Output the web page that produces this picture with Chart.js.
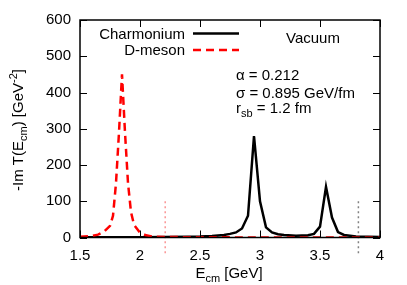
<!DOCTYPE html>
<html>
<head>
<meta charset="utf-8">
<script src="https://cdn.jsdelivr.net/npm/chart.js@4.4.0/dist/chart.umd.min.js"></script>
<style>
  body { margin: 0; background: #fff; }
  #wrap { width: 407px; height: 285px; position: relative; }
</style>
</head>
<body>
<div id="wrap"><canvas id="myChart"></canvas></div>
<script>
// energies in GeV, values of -Im T in GeV^-2
const charmE = [1.5, 1.8, 2.0, 2.2, 2.4, 2.5, 2.6, 2.7, 2.75, 2.8, 2.85, 2.9, 2.95, 3.0, 3.05, 3.1, 3.15, 3.2, 3.3, 3.4, 3.45, 3.5, 3.55, 3.6, 3.65, 3.7, 3.8, 3.9, 4.0]
const charmV = [0.5, 0.7, 1, 1.5, 2, 2.5, 4, 7, 10, 14, 25, 60, 280, 100, 28, 14, 9, 7, 5, 6, 10, 30, 140, 55, 15, 7, 3, 2, 1.5]

const dmesonE = [1.5, 1.6, 1.65, 1.7, 1.75, 1.775, 1.8, 1.825, 1.85, 1.875, 1.9, 1.925, 1.95, 2.0, 2.05, 2.1, 2.2, 2.5, 3.0, 3.5, 4.0]
const dmesonV = [2, 4, 8, 16, 32, 60, 150, 290, 450, 290, 150, 70, 35, 13, 6, 3, 1.5, 0.5, 0.2, 0.1, 0.1]

// thresholds (dotted markers)
const thresholdD = 2.21
const thresholdC = 3.82
const markerTop = 100
const markerBottom = -50

const xTicks = [1.5, 2, 2.5, 3, 3.5, 4]
const yTicks = [0, 100, 200, 300, 400, 500, 600]

const toPoints = (xs, ys) => xs.map((x, i) => ({ x: x, y: ys[i] }))

const FAMILY = '"Liberation Sans", Arial, sans-serif'
const FONT = '15px ' + FAMILY
const SMALL = '11px ' + FAMILY

// draw text with sub/superscripts
const richText = (ctx, parts, x, y, align) => {
  let w = 0
  parts.forEach(p => {
    ctx.font = p.sub || p.sup ? SMALL : FONT
    w += ctx.measureText(p.t).width
  })
  let cx = x
  if (align === 'center') cx = x - w / 2
  if (align === 'right') cx = x - w
  parts.forEach(p => {
    ctx.font = p.sub || p.sup ? SMALL : FONT
    let dy = 0
    if (p.sub) dy = 4
    if (p.sup) dy = -6
    ctx.fillText(p.t, cx, y + dy)
    cx += ctx.measureText(p.t).width
  })
}

const framePlugin = {
  id: 'frame',
  afterDraw(chart) {
    const ctx = chart.ctx
    const a = chart.chartArea
    const xs = chart.scales.x
    const ys = chart.scales.y
    ctx.save()
    ctx.strokeStyle = '#000'
    ctx.lineWidth = 1.5
    ctx.strokeRect(a.left, a.top, a.right - a.left, a.bottom - a.top)

    const len = 7
    ctx.lineWidth = 1
    ctx.beginPath()
    xTicks.forEach(v => {
      const px = Math.round(xs.getPixelForValue(v)) + 0.5
      ctx.moveTo(px, a.bottom); ctx.lineTo(px, a.bottom - len)
      ctx.moveTo(px, a.top); ctx.lineTo(px, a.top + len)
    })
    yTicks.forEach(v => {
      const py = Math.round(ys.getPixelForValue(v)) + 0.5
      ctx.moveTo(a.left, py); ctx.lineTo(a.left + len, py)
      ctx.moveTo(a.right, py); ctx.lineTo(a.right - len, py)
    })
    ctx.stroke()

    // legend
    ctx.fillStyle = '#000'
    ctx.textBaseline = 'alphabetic'
    ctx.font = FONT
    ctx.textAlign = 'right'
    ctx.fillText('Charmonium', 185, 39)
    ctx.fillText('D-meson', 185, 55)
    ctx.textAlign = 'left'
    ctx.lineWidth = 2.5
    ctx.beginPath()
    ctx.moveTo(193, 33.5); ctx.lineTo(239, 33.5)
    ctx.stroke()
    ctx.strokeStyle = '#ff0000'
    ctx.setLineDash([8, 5])
    ctx.beginPath()
    ctx.moveTo(193, 50); ctx.lineTo(239, 50)
    ctx.stroke()
    ctx.setLineDash([])

    ctx.fillText('Vacuum', 286, 43)
    ctx.fillText('\u03b1 = 0.212', 236, 80)
    ctx.fillText('\u03c3 = 0.895 GeV/fm', 236, 98)
    richText(ctx, [{ t: 'r' }, { t: 'sb', sub: true }, { t: ' = 1.2 fm' }], 236, 113, 'left')

    // axis titles
    richText(ctx, [{ t: 'E' }, { t: 'cm', sub: true }, { t: ' [GeV]' }], 229, 278, 'center')
    ctx.save()
    ctx.translate(23, 130)
    ctx.rotate(-Math.PI / 2)
    richText(ctx, [{ t: '-Im T(E' }, { t: 'cm', sub: true }, { t: ') [GeV' }, { t: '-2', sup: true }, { t: ']' }], 0, 0, 'center')
    ctx.restore()
    ctx.restore()
  }
}

const ctx = document.getElementById('myChart').getContext('2d')

new Chart(ctx, {
  type: 'line',
  data: {
    datasets: [
      {
        label: 'D-meson',
        data: toPoints(dmesonE, dmesonV),
        borderColor: '#ff0000',
        borderWidth: 2.5,
        borderDash: [8, 5],
        pointRadius: 0,
        order: 0
      },
      {
        label: 'Charmonium',
        data: toPoints(charmE, charmV),
        borderColor: '#000000',
        borderWidth: 2.5,
        pointRadius: 0,
        order: 1
      },
      {
        label: 'D threshold',
        data: toPoints([thresholdD, thresholdD], [markerTop, markerBottom]),
        borderColor: 'rgb(250,150,150)',
        borderWidth: 1.5,
        borderDash: [2, 3],
        pointRadius: 0,
        clip: false,
        order: 2
      },
      {
        label: 'C threshold',
        data: toPoints([thresholdC, thresholdC], [markerTop, markerBottom]),
        borderColor: 'rgb(130,130,130)',
        borderWidth: 1.5,
        borderDash: [2, 3],
        pointRadius: 0,
        clip: false,
        order: 2
      }
    ]
  },
  options: {
    responsive: true,
    maintainAspectRatio: false,
    animation: false,
    layout: { padding: { top: 20, right: 27, left: 0, bottom: 0 } },
    plugins: { legend: { display: false }, tooltip: { enabled: false } },
    scales: {
      x: {
        type: 'linear',
        min: 1.5,
        max: 4,
        afterFit: s => { s.height = 47.5 },
        afterBuildTicks: s => { s.ticks = xTicks.map(v => ({ value: v })) },
        grid: { display: false, drawTicks: false },
        border: { display: false },
        ticks: { color: '#000', padding: 9, maxRotation: 0, callback: v => String(v), font: { family: FAMILY, size: 15 } }
      },
      y: {
        min: 0,
        max: 600,
        afterFit: s => { s.width = 80 },
        afterBuildTicks: s => { s.ticks = yTicks.map(v => ({ value: v })) },
        grid: { display: false, drawTicks: false },
        border: { display: false },
        ticks: { color: '#000', padding: 9, callback: v => String(v), font: { family: FAMILY, size: 15 } }
      }
    }
  },
  plugins: [framePlugin]
})
</script>
</body>
</html>
